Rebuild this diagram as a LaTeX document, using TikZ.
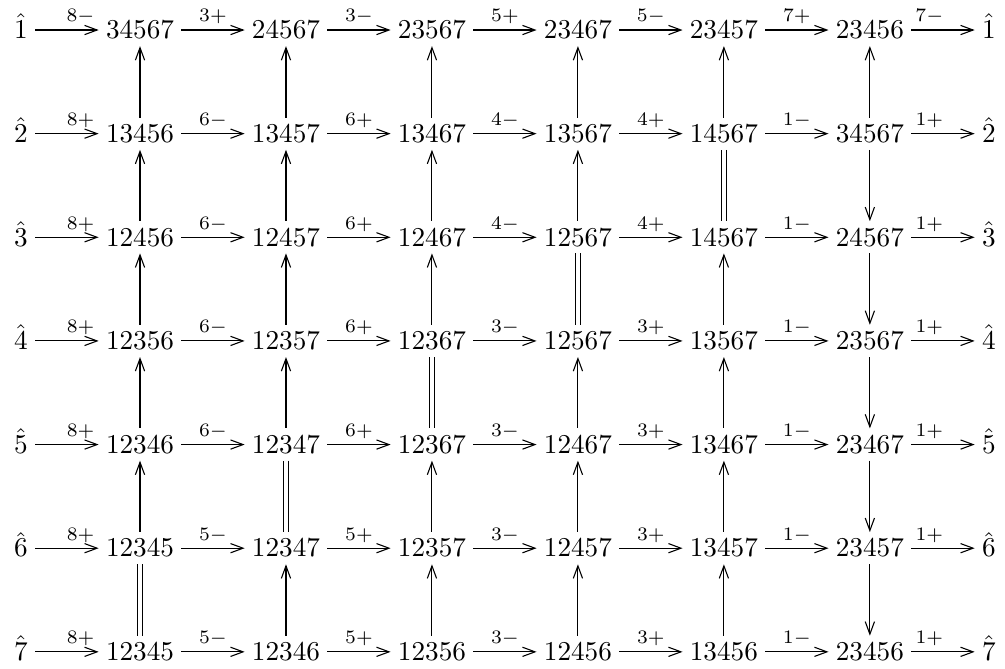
\documentclass[tikz,border=0pt]{standalone}
\usepackage{amssymb}
\usetikzlibrary{arrows.meta, calc}

\begin{document}
\begin{tikzpicture}[
    >={Straight Barb[length=4.6pt, width=3.4pt]},
    ent/.style={inner sep=2.5pt, text height=6.44pt, text depth=0pt},
    lbl/.style={anchor=base, yshift=3pt, inner sep=0pt},
    vup/.style={<-},
    vdn/.style={->},
    veq/.style={double, double distance=1.5pt}
]
    \useasboundingbox (-1.809,0.388) rectangle (11.176,-8.246);

    % Grid: dx between columns, dy between rows, hx from hat to first column
    \def\dx{1.886}
    \def\dy{1.339}
    \def\hx{1.537}

    % Entries, row by row (hats at both ends)
    \foreach \r/\ents in {
        1/{34567,24567,23567,23467,23457,23456},
        2/{13456,13457,13467,13567,14567,34567},
        3/{12456,12457,12467,12567,14567,24567},
        4/{12356,12357,12367,12567,13567,23567},
        5/{12346,12347,12367,12467,13467,23467},
        6/{12345,12347,12357,12457,13457,23457},
        7/{12345,12346,12356,12456,13456,23456}%
    } {
        \node[ent] (n\r0) at ({-\hx}, {-(\r-1)*\dy}) {$\hat{\r}$};
        \foreach \v [count=\c] in \ents
            \node[ent] (n\r\c) at ({(\c-1)*\dx}, {-(\r-1)*\dy}) {$\v$};
        \node[ent] (n\r7) at ({5*\dx+\hx}, {-(\r-1)*\dy}) {$\hat{\r}$};
    }

    % Horizontal arrows, labels over the middle of each pair
    \foreach \r/\labs in {
        1/{8-,3+,3-,5+,5-,7+,7-},
        2/{8+,6-,6+,4-,4+,1-,1+},
        3/{8+,6-,6+,4-,4+,1-,1+},
        4/{8+,6-,6+,3-,3+,1-,1+},
        5/{8+,6-,6+,3-,3+,1-,1+},
        6/{8+,5-,5+,3-,3+,1-,1+},
        7/{8+,5-,5+,3-,3+,1-,1+}%
    } {
        \foreach \l [count=\c from 0] in \labs {
            \pgfmathtruncatemacro\nx{\c+1}
            \draw[->] (n\r\c) -- (n\r\nx);
            \node[lbl] (l\r\nx) at ($(n\r\c)!0.5!(n\r\nx)$) {$\scriptstyle \l$};
        }
    }

    % Vertical connectors, column by column (row r to row r+1)
    \foreach \c/\kinds in {
        1/{up,up,up,up,up,eq},
        2/{up,up,up,up,eq,up},
        3/{up,up,up,eq,up,up},
        4/{up,up,eq,up,up,up},
        5/{up,eq,up,up,up,up},
        6/{up,dn,dn,dn,dn,dn}%
    } {
        \foreach \k [count=\r] in \kinds {
            \pgfmathtruncatemacro\rn{\r+1}
            \draw[v\k] (n\r\c) -- (n\rn\c);
        }
    }
\end{tikzpicture}
\end{document}
